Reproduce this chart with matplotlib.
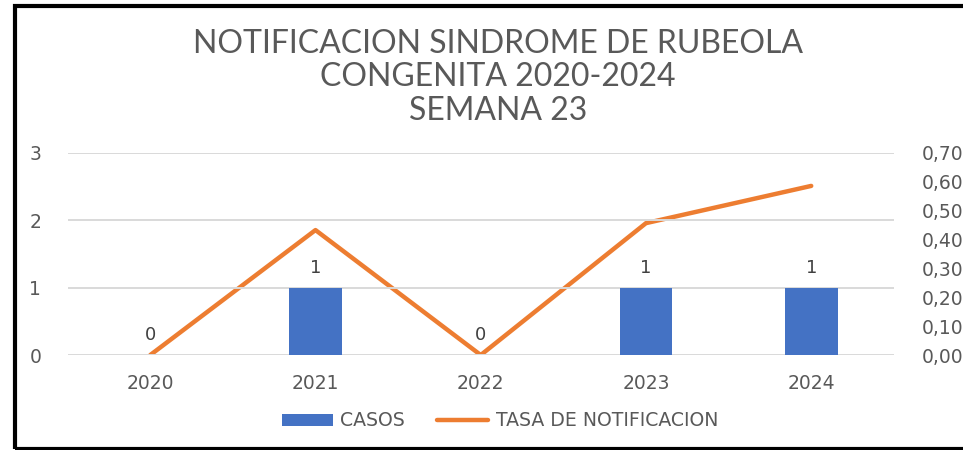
import matplotlib
matplotlib.use("Agg")
import matplotlib.pyplot as plt
import matplotlib.patches as patches
from matplotlib.ticker import FuncFormatter
import numpy as np

# data
years = ["2020", "2021", "2022", "2023", "2024"]
casos = [0, 1, 0, 1, 1]
tasa = [0.0, 0.433, 0.0, 0.457, 0.586]

BLUE = "#4472C4"
ORANGE = "#ED7D31"
GREY_TXT = "#595959"
GRID = "#D9D9D9"

fig = plt.figure(figsize=(9.63, 4.5), dpi=100)
ax = fig.add_axes([0.0702, 0.211, 0.858, 0.449])
ax2 = ax.twinx()

x = np.arange(len(years))
bars = ax.bar(x, casos, width=0.32, color=BLUE, zorder=2, label="CASOS")
line, = ax2.plot(x, tasa, color=ORANGE, lw=3.2, solid_capstyle="round",
                 zorder=3, label="TASA DE NOTIFICACION")

# data labels above the bars
for xi, v in zip(x, casos):
    ax.annotate(str(v), (xi, v), xytext=(0, 8), textcoords="offset points",
                ha="center", va="bottom", fontsize=13, color="#404040",
                family="DejaVu Sans")

ax.set_xlim(-0.5, len(years) - 0.5)
ax.set_ylim(0, 3)
ax.set_yticks([0, 1, 2, 3])
ax2.set_ylim(0, 0.7)
ax2.set_yticks(np.arange(0, 0.71, 0.1))
ax2.yaxis.set_major_formatter(FuncFormatter(lambda v, p: f"{v:.2f}".replace(".", ",")))

ax.set_xticks(x)
ax.set_xticklabels(years)
ax.yaxis.grid(True, color=GRID, lw=1.4, zorder=0)
ax.set_axisbelow(True)

for a in (ax, ax2):
    for s in a.spines.values():
        s.set_visible(False)
    a.tick_params(length=0, colors=GREY_TXT, labelsize=13.5)
ax.tick_params(axis="y", pad=19)
ax.tick_params(axis="x", pad=14)
ax2.tick_params(axis="y", pad=20)

ax.set_zorder(ax2.get_zorder() + 1)
ax.patch.set_visible(False)

fig.text(0.517, 0.828, "NOTIFICACION SINDROME DE RUBEOLA\nCONGENITA 2020-2024\nSEMANA 23",
         ha="center", va="center", fontsize=23, color=GREY_TXT,
         family="Lato", linespacing=1.13)

fig.legend(handles=[bars, line], loc="center", bbox_to_anchor=(0.519, 0.065),
           ncol=2, frameon=False, fontsize=13.6, labelcolor=GREY_TXT,
           handlelength=2.7, handleheight=0.6, columnspacing=1.7, handletextpad=0.4)

# outer frame (right edge is cut off in the reference)
fig.patches.append(patches.Rectangle((15 / 963, 1.5 / 450), 1.2, 442.5 / 450,
                                     transform=fig.transFigure, fill=False,
                                     edgecolor="black", lw=3, clip_on=False))

fig.savefig("out.png", dpi=100)
